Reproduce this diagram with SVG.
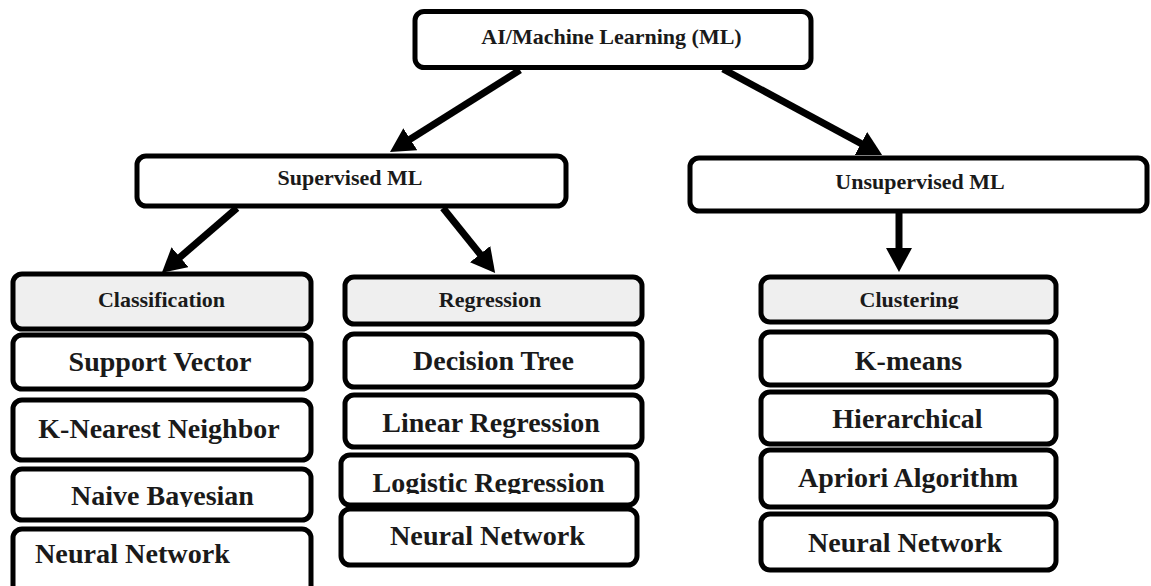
<svg xmlns="http://www.w3.org/2000/svg" width="1151" height="586" viewBox="0 0 1151 586">
<style>
.box{fill:#fff;stroke:#000;stroke-width:5}
.hdr{fill:#efefef;stroke:#000;stroke-width:5}
.t{font-family:"Liberation Serif","Times New Roman",serif;font-weight:bold;fill:#1a1a1a;text-anchor:middle}
.h{font-size:22px}
.i{font-size:28px}
.c{stroke:#000;stroke-width:7;fill:none;marker-end:url(#ah)}
</style>
<defs>
<marker id="ah" markerUnits="userSpaceOnUse" markerWidth="24" markerHeight="26" refX="4" refY="13" orient="auto">
<path d="M0,0 L24,13 L0,26 z" fill="#000"/>
</marker>
<clipPath id="clipLog"><rect x="330" y="440" width="320" height="54"/></clipPath>
<clipPath id="clipClu"><rect x="750" y="270" width="320" height="39"/></clipPath>
<clipPath id="clipNai"><rect x="0" y="460" width="330" height="47"/></clipPath>
</defs>
<g id="connectors">
<line class="c" x1="520" y1="70" x2="406.9" y2="141.3"/>
<line class="c" x1="723" y1="69" x2="864.5" y2="145.4"/>
<line class="c" x1="237" y1="208" x2="177" y2="259.8"/>
<line class="c" x1="443" y1="208" x2="482.6" y2="257.3"/>
<line class="c" x1="899" y1="213" x2="899" y2="252"/>
</g>
<g id="root"><rect class="box" x="415" y="11.5" width="396" height="56" rx="9"/><text class="t h" x="611.5" y="44">AI/Machine Learning (ML)</text></g>
<g id="supervised"><rect class="box" x="137" y="156" width="429" height="50" rx="9"/><text class="t h" x="350" y="185">Supervised ML</text></g>
<g id="unsupervised"><rect class="box" x="690" y="158" width="457" height="53" rx="9"/><text class="t h" x="920" y="189">Unsupervised ML</text></g>

<g id="classification"><rect class="hdr" x="13" y="274" width="298" height="55" rx="9"/><text class="t h" x="161.5" y="307">Classification</text></g>
<g id="support-vector"><rect class="box" x="13" y="335" width="298" height="54" rx="9"/><text class="t i" x="160" y="371">Support Vector</text></g>
<g id="knn"><rect class="box" x="13" y="400" width="298" height="60" rx="9"/><text class="t i" x="159" y="438">K-Nearest Neighbor</text></g>
<g id="naive-bayesian"><rect class="box" x="13" y="469" width="298" height="51" rx="9"/><text class="t i" x="162.5" y="505" clip-path="url(#clipNai)">Naive Bayesian</text></g>
<g id="nn-class"><rect class="box" x="13" y="529" width="298" height="80" rx="9"/><text class="t i" x="132.5" y="563" textLength="195" lengthAdjust="spacingAndGlyphs">Neural Network</text></g>

<g id="regression"><rect class="hdr" x="345" y="277" width="297" height="47" rx="9"/><text class="t h" x="490" y="307">Regression</text></g>
<g id="decision-tree"><rect class="box" x="345" y="334" width="297" height="53" rx="9"/><text class="t i" x="493.5" y="370">Decision Tree</text></g>
<g id="linear-regression"><rect class="box" x="345" y="395" width="297" height="52" rx="9"/><text class="t i" x="491" y="432">Linear Regression</text></g>
<g id="logistic-regression"><rect class="box" x="341" y="455" width="296" height="50" rx="9"/><text class="t i" x="488.5" y="492" clip-path="url(#clipLog)">Logistic Regression</text></g>
<g id="nn-reg"><rect class="box" x="341" y="509" width="296" height="56" rx="9"/><text class="t i" x="487.5" y="545" textLength="195" lengthAdjust="spacingAndGlyphs">Neural Network</text></g>

<g id="clustering"><rect class="hdr" x="761" y="277" width="295" height="45" rx="9"/><text class="t h" x="909" y="307" clip-path="url(#clipClu)">Clustering</text></g>
<g id="k-means"><rect class="box" x="761" y="332" width="295" height="53" rx="9"/><text class="t i" x="908.5" y="370">K-means</text></g>
<g id="hierarchical"><rect class="box" x="761" y="392" width="295" height="52" rx="9"/><text class="t i" x="907.5" y="428">Hierarchical</text></g>
<g id="apriori"><rect class="box" x="761" y="450" width="295" height="57" rx="9"/><text class="t i" x="908" y="487">Apriori Algorithm</text></g>
<g id="nn-clu"><rect class="box" x="761" y="514" width="295" height="56" rx="9"/><text class="t i" x="905" y="552" textLength="194" lengthAdjust="spacingAndGlyphs">Neural Network</text></g>
</svg>
